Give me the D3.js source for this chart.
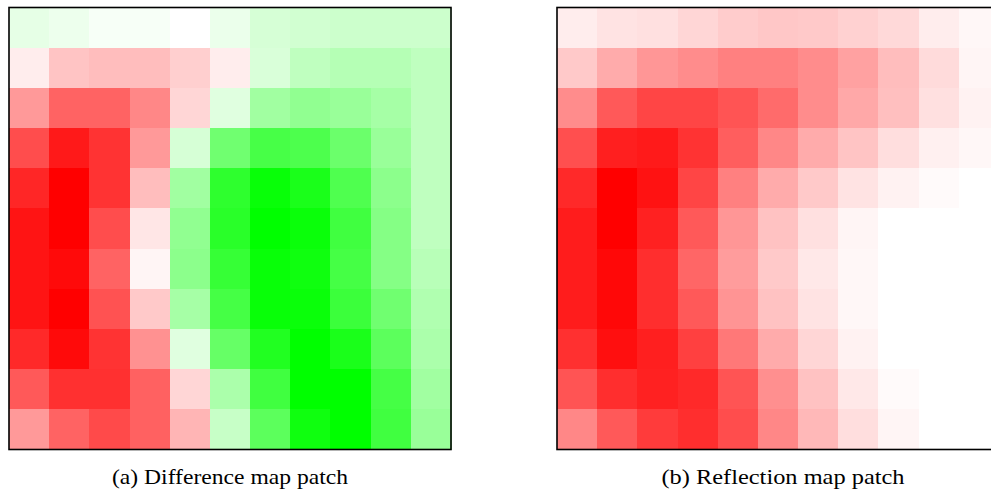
<!DOCTYPE html>
<html>
<head>
<meta charset="utf-8">
<script src="https://cdn.jsdelivr.net/npm/d3@7"></script>
<style>
  html, body { margin: 0; padding: 0; background: #fff; overflow: hidden; }
  svg { display: block; }
</style>
</head>
<body>
<svg id="chart" width="991" height="490"></svg>
<script>
// Patch grid indices (11 x 11)
const rows = d3.range(11);
const cols = d3.range(11);

// Difference map: negative = red, positive = green, range [-1, 1]
const differenceMap = [
  [ 0.10,  0.07,  0.03,  0.03,  0.00,  0.08,  0.16,  0.18,  0.20,  0.20,  0.20],
  [-0.07, -0.23, -0.26, -0.26, -0.19, -0.07,  0.15,  0.25,  0.29,  0.29,  0.25],
  [-0.40, -0.61, -0.61, -0.47, -0.16,  0.12,  0.37,  0.43,  0.40,  0.35,  0.25],
  [-0.70, -0.90, -0.80, -0.40,  0.16,  0.56,  0.72,  0.70,  0.58,  0.40,  0.25],
  [-0.85, -1.00, -0.80, -0.26,  0.37,  0.82,  0.97,  0.90,  0.69,  0.45,  0.25],
  [-0.92, -1.00, -0.70, -0.10,  0.43,  0.84,  1.00,  0.96,  0.75,  0.48,  0.25],
  [-0.92, -0.96, -0.61, -0.04,  0.45,  0.79,  0.97,  0.94,  0.73,  0.48,  0.28],
  [-0.92, -1.00, -0.68, -0.21,  0.35,  0.73,  0.97,  0.96,  0.77,  0.56,  0.31],
  [-0.84, -0.96, -0.80, -0.43,  0.12,  0.60,  0.87,  1.00,  0.90,  0.64,  0.33],
  [-0.65, -0.81, -0.81, -0.62, -0.16,  0.33,  0.75,  1.00,  1.00,  0.73,  0.37],
  [-0.40, -0.61, -0.71, -0.62, -0.29,  0.22,  0.64,  0.94,  1.00,  0.75,  0.40]
];

// Reflection map: intensity in [0, 1]
const reflectionMap = [
  [0.07, 0.11, 0.12, 0.16, 0.20, 0.22, 0.21, 0.18, 0.15, 0.07, 0.03],
  [0.21, 0.33, 0.41, 0.45, 0.50, 0.50, 0.45, 0.37, 0.26, 0.14, 0.04],
  [0.45, 0.65, 0.73, 0.73, 0.67, 0.58, 0.45, 0.34, 0.25, 0.12, 0.05],
  [0.69, 0.88, 0.90, 0.80, 0.63, 0.47, 0.33, 0.23, 0.13, 0.06, 0.03],
  [0.84, 1.00, 0.93, 0.73, 0.50, 0.33, 0.21, 0.11, 0.05, 0.02, 0.00],
  [0.89, 1.00, 0.87, 0.65, 0.41, 0.24, 0.12, 0.04, 0.00, 0.00, 0.00],
  [0.89, 0.97, 0.82, 0.60, 0.39, 0.21, 0.09, 0.03, 0.00, 0.00, 0.00],
  [0.89, 0.97, 0.82, 0.65, 0.42, 0.24, 0.11, 0.03, 0.00, 0.00, 0.00],
  [0.81, 0.94, 0.88, 0.75, 0.53, 0.33, 0.16, 0.05, 0.00, 0.00, 0.00],
  [0.67, 0.82, 0.87, 0.84, 0.67, 0.44, 0.24, 0.09, 0.02, 0.00, 0.00],
  [0.47, 0.65, 0.77, 0.82, 0.70, 0.47, 0.28, 0.13, 0.04, 0.00, 0.00]
];

const captions = ["(a) Difference map patch", "(b) Reflection map patch"];

const svg = d3.select("#chart");

const diffColor = d3.scaleLinear()
  .domain([-1, 0, 1])
  .range(["#ff0000", "#ffffff", "#00ff00"])
  .clamp(true);

const reflColor = d3.scaleLinear()
  .domain([0, 1])
  .range(["#ffffff", "#ff0000"])
  .clamp(true);

const panels = [
  { data: differenceMap, color: diffColor, x0: 9,   caption: captions[0], cx: 230, tw: 236 },
  { data: reflectionMap, color: reflColor, x0: 557, caption: captions[1], cx: 783, tw: 243 }
];

const size = 442;
const y0 = 7.5;

panels.forEach(p => {
  const x = d3.scaleBand().domain(cols).range([p.x0, p.x0 + size]);
  const y = d3.scaleBand().domain(rows).range([y0, y0 + size]);

  const cells = [];
  p.data.forEach((row, r) => row.forEach((v, c) => cells.push({ r, c, v })));

  const g = svg.append("g");
  g.selectAll("rect.cell")
    .data(cells)
    .join("rect")
    .attr("class", "cell")
    .attr("x", d => x(d.c))
    .attr("y", d => y(d.r))
    .attr("width", x.bandwidth() + 0.5)
    .attr("height", y.bandwidth() + 0.5)
    .attr("fill", d => p.color(d.v))
    .attr("shape-rendering", "crispEdges");

  g.append("rect")
    .attr("x", p.x0)
    .attr("y", y0)
    .attr("width", size)
    .attr("height", size)
    .attr("fill", "none")
    .attr("stroke", "#000")
    .attr("stroke-width", 1.6);

  svg.append("text")
    .attr("x", p.cx)
    .attr("y", 484)
    .attr("text-anchor", "middle")
    .attr("font-family", "'Liberation Serif', 'Times New Roman', serif")
    .attr("font-size", 22)
    .attr("textLength", p.tw)
    .attr("lengthAdjust", "spacingAndGlyphs")
    .attr("fill", "#000")
    .text(p.caption);
});
</script>
</body>
</html>
